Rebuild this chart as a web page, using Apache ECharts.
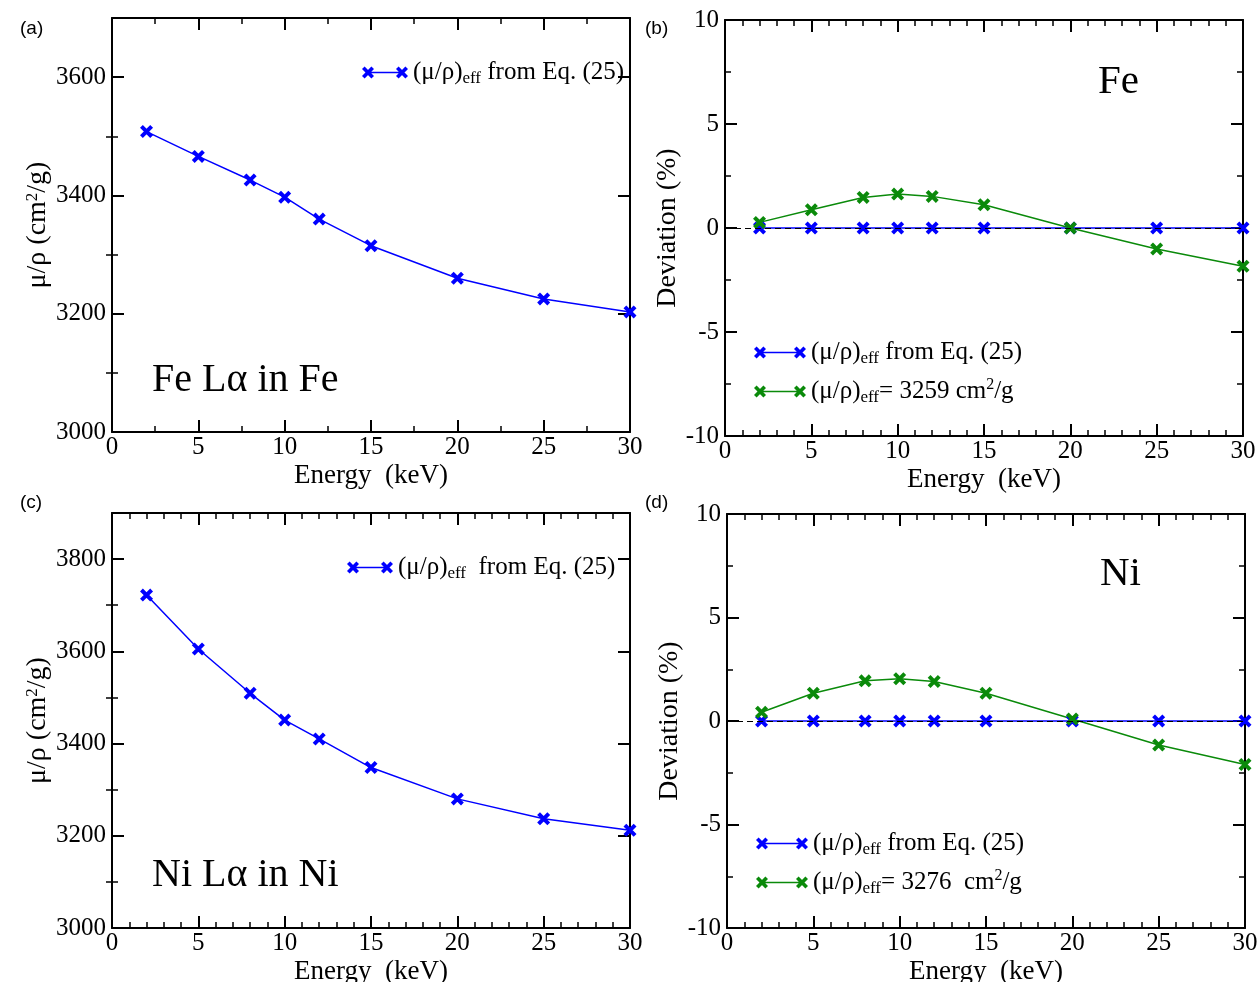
<!DOCTYPE html>
<html>
<head>
<meta charset="utf-8">
<script src="https://cdn.jsdelivr.net/npm/echarts@6/dist/echarts.min.js"></script>
<style>
  html, body { margin: 0; padding: 0; background: #fff; }
  #chart { width: 1258px; height: 982px; }
</style>
</head>
<body>
<div id="chart"></div>
<script>
// energies (keV)
const energy = [2, 5, 8, 10, 12, 15, 20, 25, 30];
// mass attenuation coefficients from Eq. (25)
const muFe = [3508, 3466, 3426, 3397, 3360, 3315, 3260, 3225, 3203];
const muNi = [3722, 3605, 3509, 3451, 3410, 3348, 3280, 3237, 3212];
// deviations (%)
const devEqFe = [0, 0, 0, 0, 0, 0, 0, 0, 0];
const devConstFe = [0.27, 0.88, 1.47, 1.63, 1.52, 1.12, 0.0, -1.01, -1.84];
const devEqNi = [0, 0, 0, 0, 0, 0, 0, 0, 0];
const devConstNi = [0.42, 1.34, 1.94, 2.04, 1.91, 1.34, 0.1, -1.16, -2.1];
// tick values for the mu axes
const muTicksFe = [3000, 3200, 3400, 3600];
const muMinorFe = [3100, 3300, 3500];
const muTicksNi = [3000, 3200, 3400, 3600, 3800];
const muMinorNi = [3100, 3300, 3500, 3700];

const serif = "'Liberation Serif', 'DejaVu Serif', serif";
const sans = "'Liberation Sans', Arial, sans-serif";
const blue = '#0000ff';
const green = '#0a8a0a';
const xMark = 'path://M0,2.6L2.6,0L12,9.4L9.4,12Z M9.4,0L12,2.6L2.6,12L0,9.4Z';

function legendIcon(w) {
  const a = w - 12;
  return 'path://M0,2.6L2.6,0L12,9.4L9.4,12Z M9.4,0L12,2.6L2.6,12L0,9.4Z ' +
    'M6,5.3L' + (w - 6) + ',5.3L' + (w - 6) + ',6.7L6,6.7Z ' +
    'M' + a + ',2.6L' + (a + 2.6) + ',0L' + w + ',9.4L' + (w - 2.6) + ',12Z ' +
    'M' + (w - 2.6) + ',0L' + w + ',2.6L' + (a + 2.6) + ',12L' + a + ',9.4Z';
}

const pairs = (ys) => energy.map((x, i) => [x, ys[i]]);

const richText = {
  t: { fontFamily: serif, fontSize: 25, color: '#000', lineHeight: 30 },
  s: { fontFamily: serif, fontSize: 17, color: '#000', lineHeight: 14, verticalAlign: 'bottom' },
  p: { fontFamily: serif, fontSize: 16, color: '#000', lineHeight: 16, verticalAlign: 'top' }
};

const legendLabels = {
  a_eq: '{t|(μ/ρ)}{s|eff}{t| from Eq. (25)}',
  b_eq: '{t|(μ/ρ)}{s|eff}{t| from Eq. (25)}',
  b_const: '{t|(μ/ρ)}{s|eff}{t|= 3259 cm}{p|2}{t|/g}',
  c_eq: '{t|(μ/ρ)}{s|eff}{t|  from Eq. (25)}',
  d_eq: '{t|(μ/ρ)}{s|eff}{t| from Eq. (25)}',
  d_const: '{t|(μ/ρ)}{s|eff}{t|= 3276  cm}{p|2}{t|/g}'
};

const grids = [
  { left: 112, top: 18, width: 518, height: 414 },
  { left: 725, top: 20, width: 518, height: 416 },
  { left: 112, top: 513, width: 518, height: 415 },
  { left: 727, top: 514, width: 518, height: 414 }
];

const lineBlack = { color: '#000', width: 2 };
const labelStyle = { fontFamily: serif, fontSize: 25, color: '#000', formatter: (v) => String(v) };

const xAxes = [];
const yAxes = [];
grids.forEach((g, i) => {
  const minorSplit = i === 0 ? 2 : 5;
  ['bottom', 'top'].forEach((pos) => {
    xAxes.push({
      type: 'value', gridIndex: i, position: pos, min: 0, max: 30, interval: 5,
      axisLine: { show: true, onZero: false, lineStyle: lineBlack },
      axisTick: { show: true, inside: true, length: 12, lineStyle: lineBlack },
      minorTick: { show: true, splitNumber: minorSplit, length: 6, lineStyle: { color: '#000', width: 1.5 } },
      splitLine: { show: false },
      axisLabel: Object.assign({ show: pos === 'bottom', margin: 3 }, labelStyle),
      name: pos === 'bottom' ? 'Energy  (keV)' : '',
      nameLocation: 'middle', nameGap: 30,
      nameTextStyle: { fontFamily: serif, fontSize: 27, color: '#000' }
    });
  });
});

function muAxes(i, ticks, minor, maxV) {
  ['left', 'right'].forEach((pos) => {
    yAxes.push({
      type: 'value', gridIndex: i, position: pos, min: 3000, max: maxV, interval: 100,
      axisLine: { show: true, onZero: false, lineStyle: lineBlack },
      axisTick: { show: true, inside: true, length: 12, customValues: ticks, lineStyle: lineBlack },
      splitLine: { show: false },
      axisLabel: Object.assign({ show: pos === 'left', margin: 6, customValues: ticks }, labelStyle),
      name: pos === 'left' ? '{t|μ/ρ (cm}{p|2}{t|/g)}' : '',
      nameLocation: 'middle', nameGap: 56,
      nameTextStyle: { rich: { t: { fontFamily: serif, fontSize: 28, color: '#000' }, p: { fontFamily: serif, fontSize: 17, color: '#000', verticalAlign: 'top', lineHeight: 14 } } }
    });
    yAxes.push({
      type: 'value', gridIndex: i, position: pos, min: 3000, max: maxV, interval: 100,
      axisLine: { show: false },
      axisTick: { show: true, inside: true, length: 6, customValues: minor, lineStyle: { color: '#000', width: 1.5 } },
      splitLine: { show: false },
      axisLabel: { show: false }
    });
  });
}

function devAxes(i) {
  ['left', 'right'].forEach((pos) => {
    yAxes.push({
      type: 'value', gridIndex: i, position: pos, min: -10, max: 10, interval: 5,
      axisLine: { show: true, onZero: false, lineStyle: lineBlack },
      axisTick: { show: true, inside: true, length: 12, lineStyle: lineBlack },
      minorTick: { show: true, splitNumber: 2, length: 6, lineStyle: { color: '#000', width: 1.5 } },
      splitLine: { show: false },
      axisLabel: Object.assign({ show: pos === 'left', margin: 6 }, labelStyle),
      name: pos === 'left' ? 'Deviation (%)' : '',
      nameLocation: 'middle', nameGap: 16,
      nameTextStyle: { fontFamily: serif, fontSize: 28, color: '#000' }
    });
  });
}

muAxes(0, muTicksFe, muMinorFe, 3700);   // y 0-3
devAxes(1);                              // y 4-5
muAxes(2, muTicksNi, muMinorNi, 3900);   // y 6-9
devAxes(3);                              // y 10-11

const zeroLine = {
  silent: true, symbol: 'none', label: { show: false },
  lineStyle: { color: '#000', type: [6, 4], width: 1 },
  data: [{ yAxis: 0 }]
};

function lineSeries(name, xi, yi, ys, color, extra) {
  return Object.assign({
    name: name, type: 'line', xAxisIndex: xi, yAxisIndex: yi,
    data: pairs(ys), symbol: xMark, symbolSize: 13, color: color,
    lineStyle: { color: color, width: 1.5 }, itemStyle: { color: color }
  }, extra || {});
}

const series = [
  lineSeries('a_eq', 0, 0, muFe, blue),
  lineSeries('b_eq', 2, 4, devEqFe, blue, { markLine: zeroLine }),
  lineSeries('b_const', 2, 4, devConstFe, green),
  lineSeries('c_eq', 4, 6, muNi, blue),
  lineSeries('d_eq', 6, 10, devEqNi, blue, { markLine: zeroLine }),
  lineSeries('d_const', 6, 10, devConstNi, green)
];

function legend(names, left, top, w) {
  return {
    data: names, left: left, top: top, orient: 'vertical', padding: 0,
    itemGap: 9, itemWidth: w, itemHeight: 13, icon: legendIcon(w),
    selectedMode: false,
    formatter: (n) => legendLabels[n],
    textStyle: { rich: richText }
  };
}

const texts = [
  { text: '(a)', x: 20, y: 31, font: sans, size: 19 },
  { text: '(b)', x: 645, y: 31, font: sans, size: 19 },
  { text: '(c)', x: 20, y: 505, font: sans, size: 19 },
  { text: '(d)', x: 645, y: 505, font: sans, size: 19 },
  { text: 'Fe Lα in Fe', x: 152, y: 384, font: serif, size: 40 },
  { text: 'Fe', x: 1098, y: 86, font: serif, size: 41 },
  { text: 'Ni Lα in Ni', x: 152, y: 879, font: serif, size: 40 },
  { text: 'Ni', x: 1100, y: 578, font: serif, size: 41 }
];

const option = {
  animation: false,
  backgroundColor: '#fff',
  grid: grids.map((g) => Object.assign({ outerBoundsMode: 'none', containLabel: false }, g)),
  xAxis: xAxes,
  yAxis: yAxes,
  legend: [
    legend(['a_eq'], 362, 60, 46),
    legend(['b_eq', 'b_const'], 754, 340, 52),
    legend(['c_eq'], 347, 555, 46),
    legend(['d_eq', 'd_const'], 756, 831, 52)
  ],
  graphic: texts.map((t) => ({
    type: 'text', left: t.x, top: t.y - t.size * 0.6,
    style: { text: t.text, font: t.size + 'px ' + t.font, fill: '#000' }
  })),
  series: series
};

const chart = echarts.init(document.getElementById('chart'));
chart.setOption(option);
</script>
</body>
</html>
